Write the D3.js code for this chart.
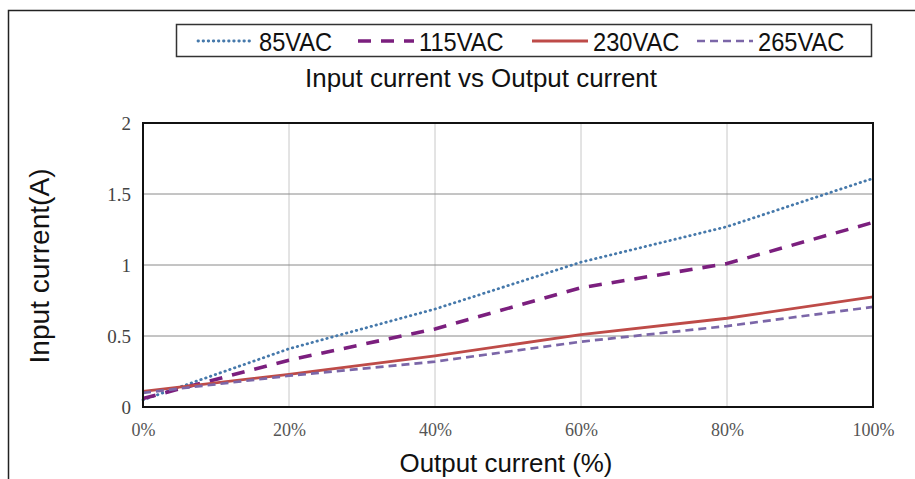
<!DOCTYPE html>
<html>
<head>
<meta charset="utf-8">
<script src="https://cdn.jsdelivr.net/npm/d3@7"></script>
<style>
  html, body { margin: 0; padding: 0; background: #fff; }
  svg { display: block; }
</style>
</head>
<body>
<svg id="chart" width="915" height="479"></svg>
<script>
// Load level (% of rated output current)
const loads = [0, 20, 40, 60, 80, 100];

// Input current (A) per line voltage
const vac85  = [0.05, 0.41, 0.69, 1.02, 1.27, 1.61];
const vac115 = [0.06, 0.33, 0.55, 0.84, 1.01, 1.30];
const vac230 = [0.11, 0.23, 0.36, 0.51, 0.625, 0.775];
const vac265 = [0.10, 0.22, 0.32, 0.46, 0.57, 0.705];

const seriesNames = ["85VAC", "115VAC", "230VAC", "265VAC"];
const yTicks = [0, 0.5, 1, 1.5, 2];
const xTicks = [0, 20, 40, 60, 80, 100];

const styles = {
  "85VAC":  { color: "#4679ab", width: 2.8, dash: "0.5,4.6", cap: "round" },
  "115VAC": { color: "#7b1f7e", width: 3.6, dash: "13,10", cap: "butt" },
  "230VAC": { color: "#be4b48", width: 2.8, dash: null,    cap: "butt" },
  "265VAC": { color: "#7b66a8", width: 2.7, dash: "8,5",   cap: "butt" }
};

const seriesData = {
  "85VAC": vac85, "115VAC": vac115, "230VAC": vac230, "265VAC": vac265
};

const sans = "'Liberation Sans', Arial, sans-serif";
const serif = "'Liberation Serif', 'DejaVu Serif', serif";

const svg = d3.select("#chart");

// outer frame
svg.append("rect")
  .attr("x", 8.5).attr("y", 10.5).attr("width", 920).attr("height", 480)
  .attr("fill", "none").attr("stroke", "#222").attr("stroke-width", 1.5);

const plot = { left: 143, right: 873, top: 123, bottom: 407 };

const x = d3.scaleLinear().domain([0, 100]).range([plot.left, plot.right]);
const y = d3.scaleLinear().domain([0, 2]).range([plot.bottom, plot.top]);

// vertical grid
svg.append("g")
  .selectAll("line")
  .data(xTicks.slice(1, -1))
  .join("line")
  .attr("x1", d => x(d)).attr("x2", d => x(d))
  .attr("y1", plot.top).attr("y2", plot.bottom)
  .attr("stroke", "#c8c8c8").attr("stroke-width", 1);

// horizontal grid
svg.append("g")
  .selectAll("line")
  .data(yTicks.slice(1, -1))
  .join("line")
  .attr("x1", plot.left).attr("x2", plot.right)
  .attr("y1", d => y(d)).attr("y2", d => y(d))
  .attr("stroke", "#8a8a8a").attr("stroke-width", 1);

// series lines
const line = d3.line()
  .x((d, i) => x(loads[i]))
  .y(d => y(d));

seriesNames.forEach(name => {
  const s = styles[name];
  svg.append("path")
    .datum(seriesData[name])
    .attr("d", line)
    .attr("fill", "none")
    .attr("stroke", s.color)
    .attr("stroke-width", s.width)
    .attr("stroke-linecap", s.cap)
    .attr("stroke-dasharray", s.dash);
});

// plot frame
svg.append("rect")
  .attr("x", plot.left).attr("y", plot.top)
  .attr("width", plot.right - plot.left).attr("height", plot.bottom - plot.top)
  .attr("fill", "none").attr("stroke", "#111").attr("stroke-width", 2);

// axes (labels only, the frame carries the lines)
const yAxis = d3.axisLeft(y).tickValues(yTicks).tickSize(0).tickPadding(12)
  .tickFormat(d3.format("~g"));
const xAxis = d3.axisBottom(x).tickValues(xTicks).tickSize(0).tickPadding(16)
  .tickFormat(d => d + "%");

const gy = svg.append("g").attr("transform", `translate(${plot.left},0)`).call(yAxis);
const gx = svg.append("g").attr("transform", `translate(0,${plot.bottom})`).call(xAxis);
[gy, gx].forEach(g => {
  g.select(".domain").remove();
  g.selectAll("text")
    .attr("fill", "#555")
    .style("font-family", serif)
    .style("font-size", "18px");
});
gy.selectAll("text").style("font-size", "19px").attr("fill", "#444");

// titles
svg.append("text")
  .attr("x", 481).attr("y", 87)
  .attr("text-anchor", "middle")
  .style("font-family", sans)
  .style("font-size", "25px").attr("fill", "#111")
  .attr("textLength", 352).attr("lengthAdjust", "spacingAndGlyphs")
  .text("Input current vs Output current");

svg.append("text")
  .attr("x", 506).attr("y", 472)
  .attr("text-anchor", "middle")
  .style("font-family", sans)
  .style("font-size", "26px").attr("fill", "#111")
  .attr("textLength", 213).attr("lengthAdjust", "spacingAndGlyphs")
  .text("Output current (%)");

svg.append("text")
  .attr("transform", "translate(49,266) rotate(-90)")
  .attr("text-anchor", "middle")
  .style("font-family", sans)
  .style("font-size", "27px").attr("fill", "#111")
  .attr("textLength", 195).attr("lengthAdjust", "spacingAndGlyphs")
  .text("Input current(A)");

// legend
const legend = svg.append("g");
legend.append("rect")
  .attr("x", 176.5).attr("y", 24.5).attr("width", 695).attr("height", 32)
  .attr("fill", "#fff").attr("stroke", "#333").attr("stroke-width", 1.5);

const legendX = [198, 358, 532, 697];
seriesNames.forEach((name, i) => {
  const s = styles[name];
  const g = legend.append("g").attr("transform", `translate(${legendX[i]},41)`);
  g.append("line")
    .attr("x1", 0).attr("x2", 56).attr("y1", 0).attr("y2", 0)
    .attr("stroke", s.color).attr("stroke-width", s.width)
    .attr("stroke-linecap", s.cap).attr("stroke-dasharray", s.dash);
  g.append("text")
    .attr("transform", "translate(61,9.5) scale(0.91,1)")
    .style("font-family", sans)
    .style("font-size", "26px").attr("fill", "#111")
    .text(name);
});
</script>
</body>
</html>
